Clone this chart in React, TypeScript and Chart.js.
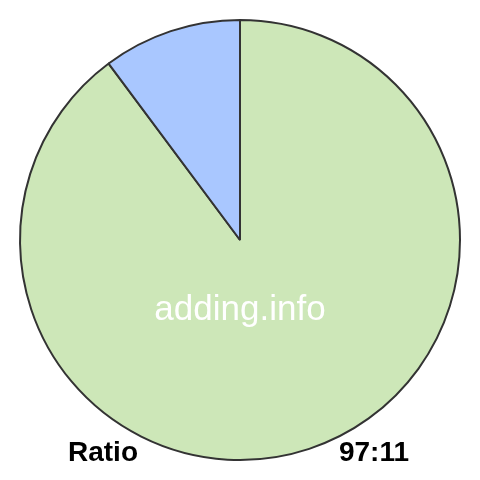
import React, { useEffect, useRef } from 'react';
import { Chart } from 'chart.js/auto';

const labels = ['97', '11'];
const values = [97, 11];
const colors = ['#cde7b8', '#a9c7ff'];
const watermark = 'adding.info';
const leftCaption = 'Ratio';
const rightCaption = '97:11';

const textPlugin = {
  id: 'captions',
  afterDraw(chart: Chart) {
    const { ctx } = chart;
    ctx.save();
    ctx.fillStyle = '#ffffff';
    ctx.font = '35px "Liberation Sans", Arial, sans-serif';
    ctx.textAlign = 'center';
    ctx.textBaseline = 'alphabetic';
    ctx.fillText(watermark, 240, 320);
    ctx.fillStyle = '#000000';
    ctx.font = 'bold 28px "Liberation Sans", Arial, sans-serif';
    ctx.textAlign = 'left';
    ctx.fillText(leftCaption, 68, 461);
    ctx.textAlign = 'right';
    ctx.fillText(rightCaption, 409, 461);
    ctx.restore();
  },
};

export default function App() {
  const canvasRef = useRef<HTMLCanvasElement>(null);
  const chartRef = useRef<Chart | null>(null);

  useEffect(() => {
    if (!canvasRef.current) return;
    if (chartRef.current) chartRef.current.destroy();
    chartRef.current = new Chart(canvasRef.current, {
      type: 'pie',
      data: {
        labels,
        datasets: [
          {
            data: values,
            backgroundColor: colors,
            borderColor: '#333333',
            borderWidth: 2,
          },
        ],
      },
      options: {
        animation: false,
        responsive: false,
        layout: { padding: 19 },
        plugins: { legend: { display: false }, tooltip: { enabled: false } },
      },
      plugins: [textPlugin],
    });
    return () => chartRef.current?.destroy();
  }, []);

  return (
    <div style={{ position: 'fixed', left: 0, top: 0, width: 480, height: 480, background: '#fff' }}>
      <canvas ref={canvasRef} width={480} height={480} style={{ width: 480, height: 480 }} />
    </div>
  );
}
